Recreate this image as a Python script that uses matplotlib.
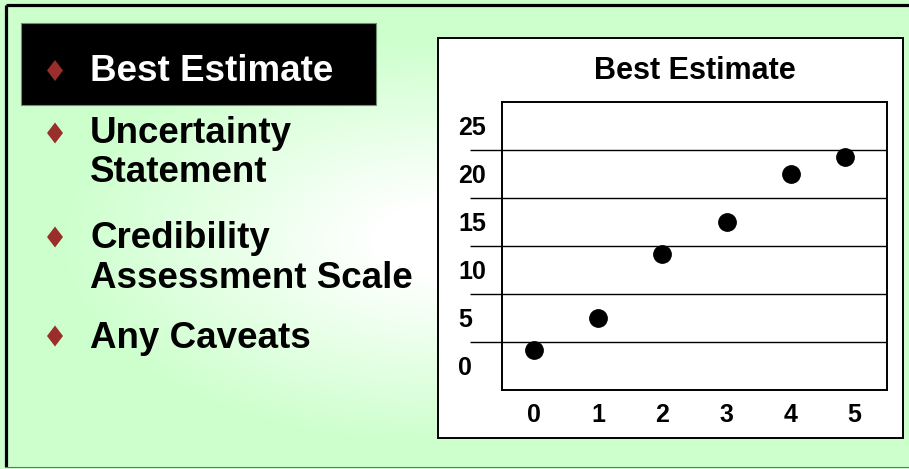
import numpy as np
import matplotlib
matplotlib.use("Agg")
import matplotlib.pyplot as plt
from matplotlib.patches import Rectangle, Polygon

plt.rcParams['font.family'] = ['Liberation Sans', 'DejaVu Sans']

# ---- data ----
bullets = [["Best Estimate"], ["Uncertainty", "Statement"],
           ["Credibility", "Assessment Scale"], ["Any Caveats"]]
chart_title = "Best Estimate"
x_vals = [0, 1, 2, 3, 4, 4.85]
y_vals = [1.7, 5.0, 11.7, 15.0, 20.0, 21.7]
x_ticks = [0, 1, 2, 3, 4, 5]
x_tick_labels = ["0", "1", "2", "3", "4", "5"]
y_ticks = [0, 5, 10, 15, 20, 25]
y_tick_labels = ["0", "5", "10", "15", "20", "25"]
grid_vals = [2.5, 7.5, 12.5, 17.5, 22.5]

W, H = 909, 469
DPI = 100
fig = plt.figure(figsize=(W / DPI, H / DPI), dpi=DPI)

# ---- background (pixel coordinates) ----
bg = fig.add_axes([0, 0, 1, 1])
bg.set_xlim(0, W)
bg.set_ylim(H, 0)
bg.axis('off')

yy, xx = np.mgrid[0:H, 0:W]
r = np.sqrt(((xx - 440) / 430.0) ** 2 + ((yy - 240) / 230.0) ** 2)
s = np.clip((r - 0.15) / 0.75, 0, 1)
green = np.array([0xcc, 0xff, 0xcc]) / 255.0
white = np.array([1.0, 1.0, 1.0])
img = white[None, None, :] * (1 - s[..., None]) + green[None, None, :] * s[..., None]
bg.imshow(img, extent=(0, W, H, 0), aspect='auto', zorder=0, interpolation='bilinear')

# outer border
bg.plot([5.5, W + 5], [5.5, 5.5], color='black', lw=2.3, zorder=1, solid_capstyle='butt')
bg.plot([5.5, 5.5], [5.5, 467], color='black', lw=2.3, zorder=1, solid_capstyle='butt')
bg.plot([5.5, W], [467.5, 467.5], color='#707070', lw=0.8, zorder=1)

# highlight box
bg.add_patch(Rectangle((21, 23.3), 354.7, 82, facecolor='black',
                       edgecolor='#6f8f6f', lw=0.8, zorder=2))

def diamond(cx, cy):
    bg.add_patch(Polygon([(cx, cy - 10.5), (cx + 8, cy), (cx, cy + 10.5), (cx - 8, cy)],
                         closed=True, facecolor='#992e2a', edgecolor='none', zorder=3))

line_baselines = [[81], [143, 182], [248, 287.5], [347.5]]
diamond_y = [70.5, 133, 237, 336]
for i, lines in enumerate(bullets):
    diamond(55, diamond_y[i])
    col = 'white' if i == 0 else 'black'
    for txt, yb in zip(lines, line_baselines[i]):
        bg.text(90, yb, txt, color=col, fontsize=26.5, fontweight='bold',
                ha='left', va='baseline', zorder=4)

# chart panel
bg.add_patch(Rectangle((438.3, 38.3), 464.4, 400, facecolor='white',
                       edgecolor='black', lw=1.4, zorder=2))

# ---- chart axes ----
L, R, T, B = 502.3, 886.7, 101.7, 390.0
ax = fig.add_axes([L / W, 1 - B / H, (R - L) / W, (B - T) / H])
ax.set_facecolor('white')
ax.plot(x_vals, y_vals, 'o', color='black', ms=12.5, zorder=5, clip_on=False)
ax.set_xlim(-0.5, 5.5)
ax.set_ylim(-2.5, 27.5)

ax.set_xticks(x_ticks)
ax.set_xticklabels(x_tick_labels, fontsize=18, fontweight='bold')
ax.set_yticks(y_ticks)
ax.set_yticklabels(y_tick_labels, fontsize=18, fontweight='bold', ha='left')
ax.tick_params(axis='x', length=0, pad=9.5)
ax.tick_params(axis='y', which='major', length=0, pad=31.9)
ax.set_yticks(grid_vals, minor=True)
ax.tick_params(axis='y', which='minor', length=23.3, width=1.0, direction='out', color='black')
ax.grid(True, axis='y', which='minor', color='black', lw=1.0)
ax.grid(False, axis='y', which='major')
ax.grid(False, axis='x')
for sp in ax.spines.values():
    sp.set_linewidth(1.4)
    sp.set_color('black')

ax.set_title(chart_title, fontsize=22, fontweight='bold', pad=16.1)

fig.savefig('out.png', dpi=DPI)
